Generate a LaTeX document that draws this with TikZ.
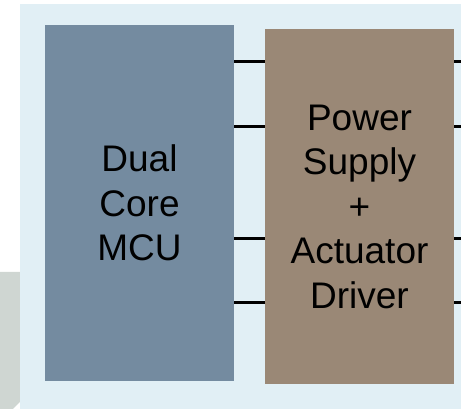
\documentclass[tikz,border=0pt]{standalone}
\usepackage{fontspec}
\setmainfont{Liberation Sans}
\usetikzlibrary{positioning,calc}

\definecolor{panelblue}{RGB}{225,239,245}
\definecolor{mcublue}{RGB}{116,139,160}
\definecolor{drvbrown}{RGB}{154,136,118}
\definecolor{sidegrey}{RGB}{207,214,210}

\begin{document}
\begin{tikzpicture}[
  x=1pt,y=1pt,
  font=\fontsize{37}{44.5}\selectfont,
  block/.style={inner sep=0pt,minimum width=189,align=center,text=black},
  mcu/.style={block,fill=mcublue,minimum height=356},
  driver/.style={block,fill=drvbrown,minimum height=355},
  bus/.style={draw,line width=3pt}
]
\useasboundingbox (0,0) rectangle (461,409);

% background
\fill[sidegrey] (0,0) -- (0,137) -- (20,137) -- (20,7) -- (13,0) -- cycle;
\fill[panelblue] (20,0) rectangle (461,405);

% blocks
\node[mcu] (mcu) at (139.5,206) {Dual\\Core\\MCU};
\node[driver] (drv) at (359.5,202.5) {Power\\Supply\\+\\Actuator\\Driver};
\coordinate (edge) at (461,0);

% signal lines
\foreach \y in {347,282,170,106} {
  \draw[bus] (mcu.east |- 0,\y) -- (drv.west |- 0,\y);
  \draw[bus] (drv.east |- 0,\y) -- (edge |- 0,\y);
}
\end{tikzpicture}
\end{document}
